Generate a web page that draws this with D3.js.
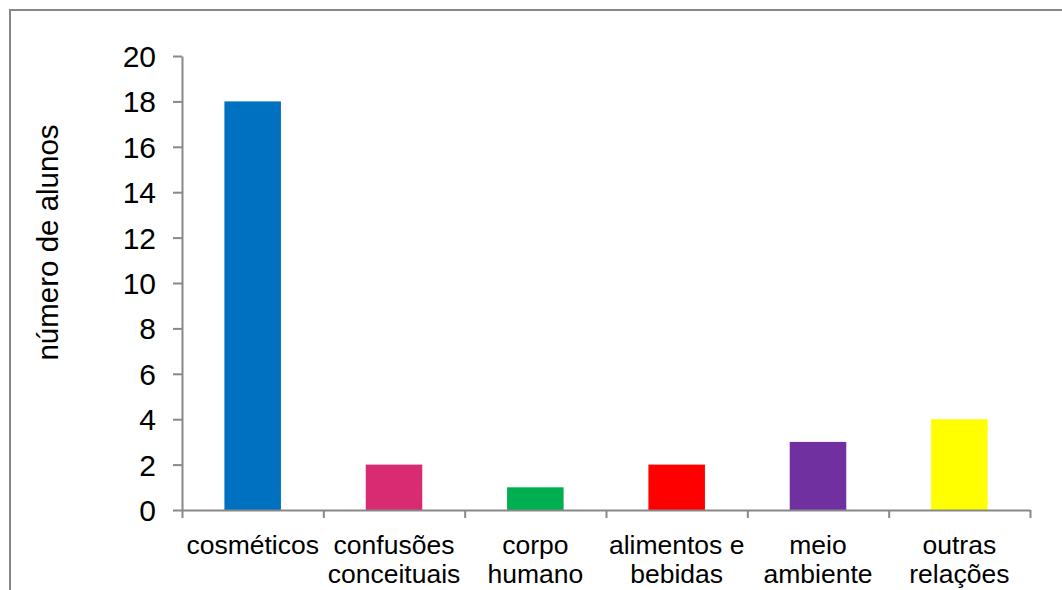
<!DOCTYPE html>
<html>
<head>
<meta charset="utf-8">
<script src="https://cdn.jsdelivr.net/npm/d3@7"></script>
<style>
  html, body { margin: 0; padding: 0; background: #fff; }
  svg { display: block; font-family: "Liberation Sans", Arial, sans-serif; }
</style>
</head>
<body>
<svg id="chart" width="1062" height="590"></svg>
<script>
// Categories (each label split into its display lines)
const categories = [
  ["cosméticos"],
  ["confusões", "conceituais"],
  ["corpo", "humano"],
  ["alimentos e", "bebidas"],
  ["meio", "ambiente"],
  ["outras", "relações"]
];
const values = [18, 2, 1, 2, 3, 4];
const colors = ["#0070C0", "#D92B72", "#00B050", "#FF0000", "#7030A0", "#FFFF00"];
const yTicks = [0, 2, 4, 6, 8, 10, 12, 14, 16, 18, 20];
const yTitle = "número de alunos";

const svg = d3.select("#chart");
const axisColor = "#888888";

// Outer chart frame
svg.append("rect")
  .attr("x", 10).attr("y", 10)
  .attr("width", 1100).attr("height", 700)
  .attr("fill", "none")
  .attr("stroke", axisColor)
  .attr("stroke-width", 2);

const plot = { left: 182, right: 1030, top: 56, bottom: 510 };

const x = d3.scaleBand()
  .domain(d3.range(categories.length))
  .range([plot.left, plot.right])
  .paddingInner(0.6)
  .paddingOuter(0.3);

const y = d3.scaleLinear()
  .domain([0, 20])
  .range([plot.bottom, plot.top]);

// Bars
svg.append("g").selectAll("rect")
  .data(values)
  .join("rect")
  .attr("x", (d, i) => x(i))
  .attr("y", d => y(d))
  .attr("width", x.bandwidth())
  .attr("height", d => y(0) - y(d))
  .attr("fill", (d, i) => colors[i]);

// Y axis
const yAxis = svg.append("g")
  .attr("transform", `translate(${plot.left},0)`)
  .call(d3.axisLeft(y).tickValues(yTicks).tickSize(9).tickPadding(17).tickSizeOuter(0));
yAxis.select(".domain").attr("stroke", axisColor).attr("stroke-width", 2);
yAxis.selectAll(".tick line").attr("stroke", axisColor).attr("stroke-width", 2);
yAxis.selectAll(".tick text")
  .attr("fill", "#000")
  .style("font-size", "30px")
  .attr("dy", "0.35em");

// X axis: ticks sit on the category boundaries
const step = (plot.right - plot.left) / categories.length;
const xEdge = d3.scaleLinear().domain([0, categories.length]).range([plot.left, plot.right]);
const xAxis = svg.append("g")
  .attr("transform", `translate(0,${plot.bottom})`)
  .call(d3.axisBottom(xEdge).tickValues(d3.range(categories.length + 1)).tickSize(8).tickFormat("").tickSizeOuter(0));
xAxis.select(".domain").attr("stroke", axisColor).attr("stroke-width", 2);
xAxis.selectAll(".tick line").attr("stroke", axisColor).attr("stroke-width", 2);

// Category labels
const labels = svg.append("g")
  .attr("font-size", "26.5px")
  .attr("fill", "#000")
  .attr("text-anchor", "middle");
categories.forEach((lines, i) => {
  const t = labels.append("text")
    .attr("x", plot.left + step * (i + 0.5))
    .attr("y", 554);
  lines.forEach((line, j) => {
    t.append("tspan")
      .attr("x", plot.left + step * (i + 0.5))
      .attr("dy", j === 0 ? 0 : 29)
      .text(line);
  });
});

// Y axis title
svg.append("text")
  .attr("transform", `translate(58,${(125 + 360) / 2}) rotate(-90)`)
  .attr("text-anchor", "middle")
  .attr("font-size", "29.5px")
  .attr("fill", "#000")
  .text(yTitle);
</script>
</body>
</html>
